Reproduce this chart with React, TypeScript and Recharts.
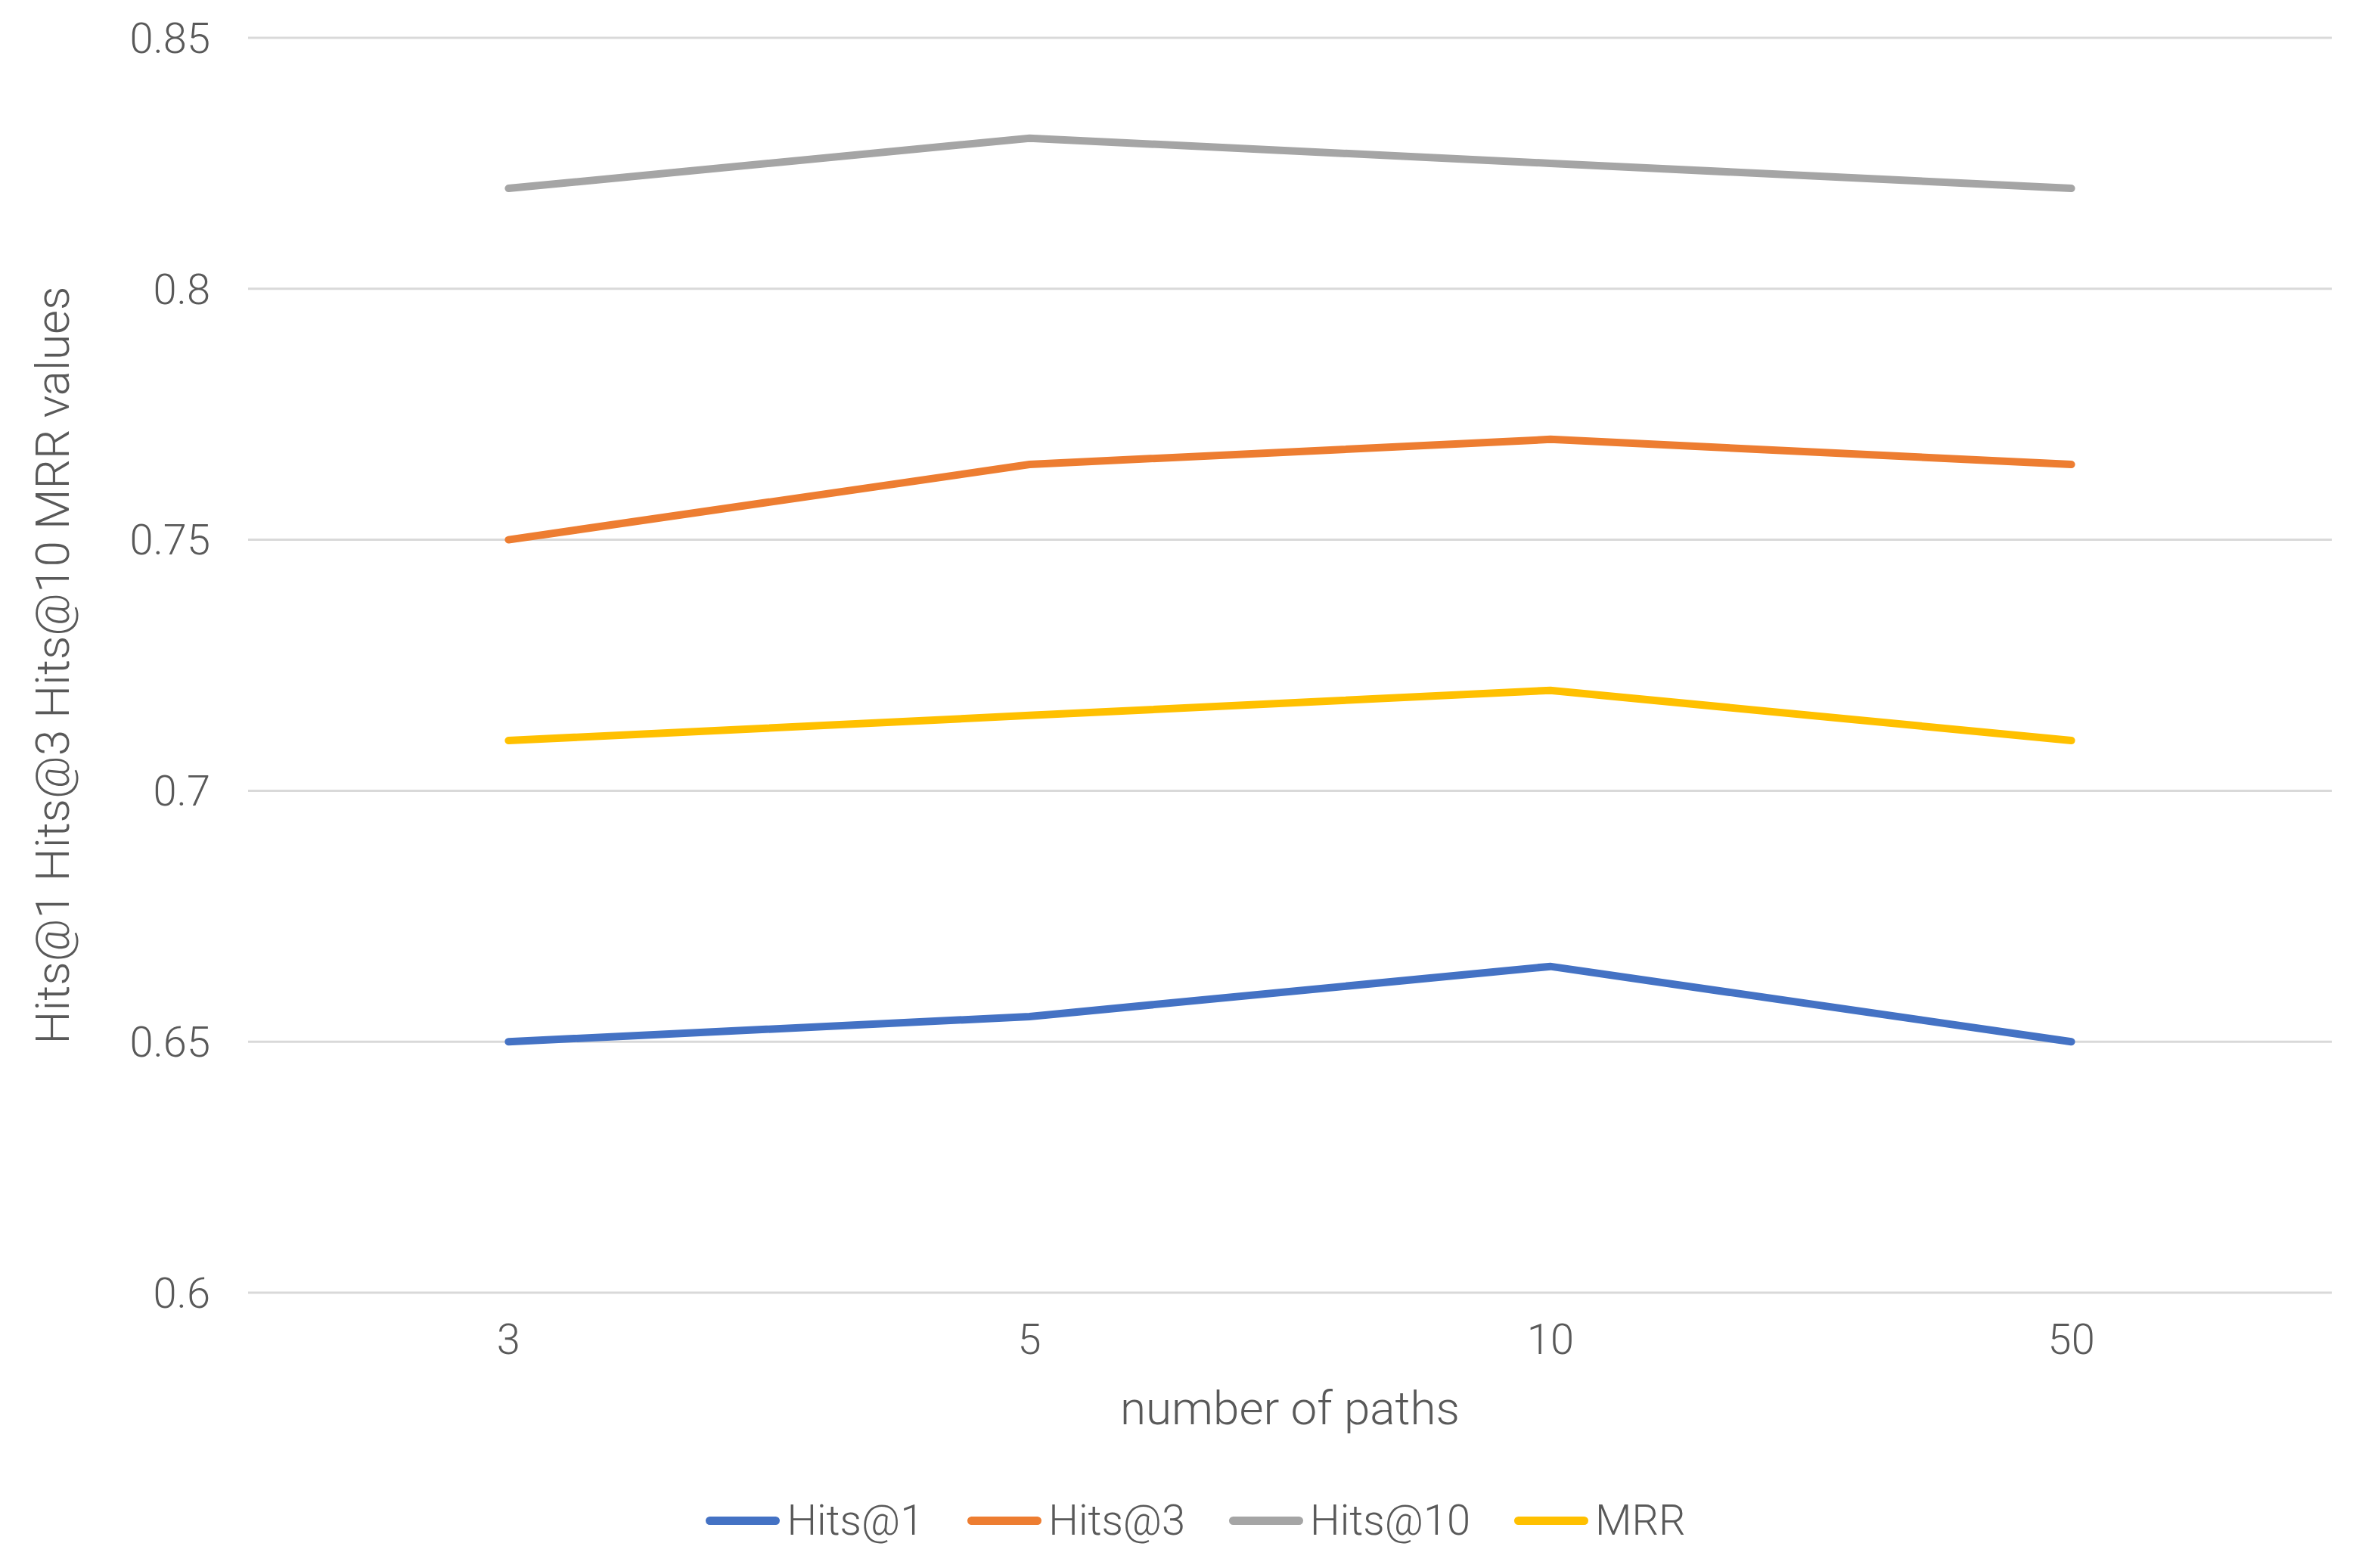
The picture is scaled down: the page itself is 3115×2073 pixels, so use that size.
import React from 'react';
import { LineChart, Line, XAxis, YAxis, CartesianGrid, Legend, Label } from 'recharts';

const PATHS = ['3', '5', '10', '50'];
const HITS1 = [0.65, 0.655, 0.665, 0.65];
const HITS3 = [0.75, 0.765, 0.77, 0.765];
const HITS10 = [0.82, 0.83, 0.825, 0.82];
const MRR = [0.71, 0.715, 0.72, 0.71];
const Y_TICKS = [0.6, 0.65, 0.7, 0.75, 0.8, 0.85];

const SERIES = [
  { key: 'hits1', name: 'Hits@1', color: '#4472C4' },
  { key: 'hits3', name: 'Hits@3', color: '#ED7D31' },
  { key: 'hits10', name: 'Hits@10', color: '#A5A5A5' },
  { key: 'mrr', name: 'MRR', color: '#FFC000' },
];

const data = PATHS.map((p, i) => ({
  paths: p,
  hits1: HITS1[i],
  hits3: HITS3[i],
  hits10: HITS10[i],
  mrr: MRR[i],
}));

const W = 3115;
const H = 2073;
const FONT = 'Roboto, "Noto Sans", sans-serif';
const TEXT = '#595959';
const plotW = W - 328 - 32;
const pad = plotW / 8;

const XTitle = ({ viewBox }: any) => (
  <text x={viewBox.x + viewBox.width / 2} y={viewBox.y + 174} textAnchor="middle" fill={TEXT} fontSize={62} fontWeight={300} fontFamily={FONT}>
    number of paths
  </text>
);

const YTitle = ({ viewBox }: any) => {
  const x = viewBox.x + 91;
  const y = viewBox.y + viewBox.height / 2;
  return (
    <text x={x} y={y} transform={`rotate(-90, ${x}, ${y})`} textAnchor="middle" fill={TEXT} fontSize={62} fontWeight={300} fontFamily={FONT}>
      Hits@1 Hits@3 Hits@10 MRR values
    </text>
  );
};

// keep the legend in series order (recharts sorts by name otherwise)
const renderLegend = ({ payload }: any) => {
  const items = SERIES.map(s => (payload || []).find((p: any) => p.dataKey === s.key)).filter(Boolean);
  return (
    <div style={{ display: 'flex', justifyContent: 'center', alignItems: 'center', height: 80, fontFamily: FONT, fontWeight: 300, fontSize: 56, color: TEXT }}>
      {items.map((entry: any, i: number) => (
        <div key={`item-${i}`} style={{ display: 'flex', alignItems: 'center', marginLeft: i === 0 ? 0 : 58 }}>
          <span style={{ display: 'inline-block', width: 98, height: 11, borderRadius: 6, background: entry.color, marginRight: 9 }} />
          <span>{entry.value}</span>
        </div>
      ))}
    </div>
  );
};

export default function App() {
  return (
    <div style={{ width: W, height: H, background: '#fff' }}>
      <style>{'body{margin:0}'}</style>
      <LineChart width={W} height={H} data={data} margin={{ top: 50, right: 32, left: 0, bottom: 23 }}>
        <CartesianGrid vertical={false} stroke="#D9D9D9" strokeWidth={3} />
        <XAxis
          dataKey="paths"
          height={261}
          padding={{ left: pad, right: pad }}
          axisLine={false}
          tickLine={false}
          tickSize={0}
          tickMargin={41}
          tick={{ fill: TEXT, fontSize: 56, fontWeight: 300, fontFamily: FONT }}
        >
          <Label content={XTitle} />
        </XAxis>
        <YAxis
          width={328}
          domain={[0.6, 0.85]}
          ticks={Y_TICKS}
          interval={0}
          axisLine={false}
          tickLine={false}
          tickSize={0}
          tickMargin={50}
          tick={{ fill: TEXT, fontSize: 56, fontWeight: 300, fontFamily: FONT }}
        >
          <Label content={YTitle} />
        </YAxis>
        <Legend verticalAlign="bottom" content={renderLegend} wrapperStyle={{ height: 80, left: 47, width: 3068 }} />
        {SERIES.map(s => (
          <Line
            key={s.key}
            type="linear"
            dataKey={s.key}
            name={s.name}
            stroke={s.color}
            strokeWidth={10}
            strokeLinecap="round"
            dot={false}
            activeDot={false}
            isAnimationActive={false}
          />
        ))}
      </LineChart>
    </div>
  );
}
